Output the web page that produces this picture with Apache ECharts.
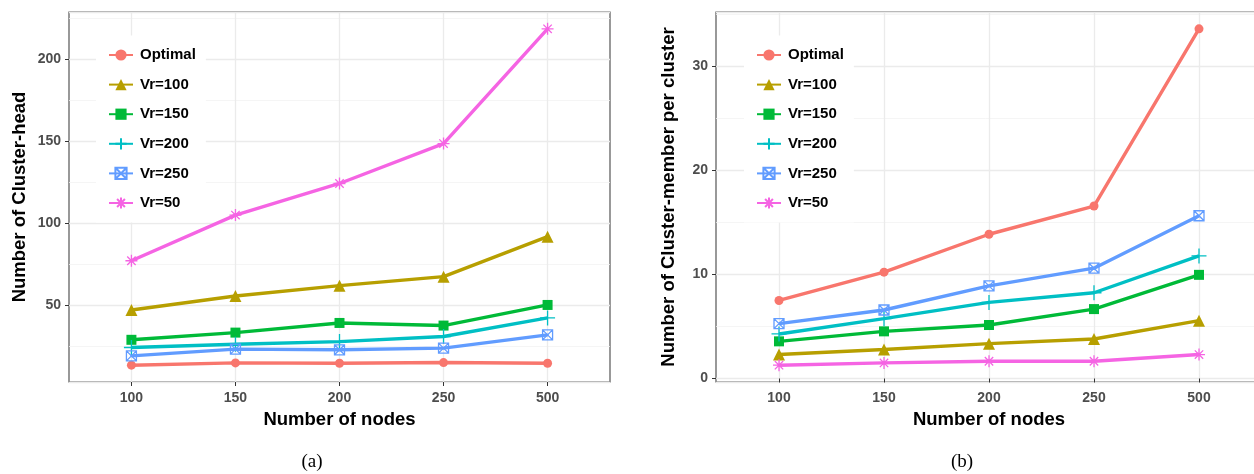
<!DOCTYPE html>
<html>
<head>
<meta charset="utf-8">
<script src="https://cdn.jsdelivr.net/npm/echarts@6/dist/echarts.min.js"></script>
<style>
  html, body { margin: 0; padding: 0; background: #fff; }
  #chart { width: 1254px; height: 474px; }
</style>
</head>
<body>
<div id="chart"></div>
<script>
// categories on the x axis
const nodeLabels = ['100', '150', '200', '250', '500']
const seriesNames = ['Optimal', 'Vr=100', 'Vr=150', 'Vr=200', 'Vr=250', 'Vr=50']

// (a) number of cluster-heads
const headOptimal = [13.2, 14.6, 14.4, 14.8, 14.4]
const headVr100 = [46.9, 55.5, 61.8, 67.3, 91.7]
const headVr150 = [28.7, 33.1, 39.0, 37.4, 50.0]
const headVr200 = [24.0, 26.0, 27.6, 30.7, 42.1]
const headVr250 = [18.9, 23.0, 22.6, 23.6, 31.7]
const headVr50 = [77.0, 104.9, 124.2, 148.6, 218.7]

// (b) cluster-members per cluster
const memberOptimal = [7.5, 10.22, 13.86, 16.57, 33.6]
const memberVr100 = [2.3, 2.78, 3.35, 3.8, 5.56]
const memberVr150 = [3.57, 4.53, 5.14, 6.67, 9.96]
const memberVr200 = [4.28, 5.75, 7.31, 8.24, 11.78]
const memberVr250 = [5.27, 6.58, 8.9, 10.6, 15.64]
const memberVr50 = [1.28, 1.5, 1.66, 1.66, 2.3]

const headSets = [headOptimal, headVr100, headVr150, headVr200, headVr250, headVr50]
const memberSets = [memberOptimal, memberVr100, memberVr150, memberVr200, memberVr250, memberVr50]

const colors = ['#F8766D', '#B79F00', '#00BA38', '#00BFC4', '#619CFF', '#F564E3']
const font = '"Liberation Sans", Arial, sans-serif'

// ggplot-like marker shapes
const shapes = [
  { symbol: 'circle', size: 9, open: false },
  { symbol: 'triangle', size: 12, open: false },
  { symbol: 'rect', size: 10, open: false },
  { symbol: 'path://M5,0L5,10M0,5L10,5', size: 15, open: true },
  { symbol: 'path://M0,0L10,0L10,10L0,10ZM0,0L10,10M10,0L0,10', size: 10, open: true },
  { symbol: 'path://M5,0L5,10M0,5L10,5M1.5,1.5L8.5,8.5M8.5,1.5L1.5,8.5', size: 12, open: true },
]

function expand(sets) {
  const all = sets.flat()
  const lo = Math.min(...all)
  const hi = Math.max(...all)
  const pad = (hi - lo) * 0.05
  return [lo - pad, hi + pad]
}

const headRange = expand(headSets)
const memberRange = expand(memberSets)

function xAxis(gridIndex) {
  return {
    type: 'value',
    gridIndex,
    min: 0.4,
    max: 5.6,
    name: 'Number of nodes',
    nameLocation: 'middle',
    nameGap: 28,
    nameTextStyle: { fontFamily: font, fontWeight: 'bold', fontSize: 18.5, color: '#000' },
    axisLine: { show: false },
    axisTick: { show: true, length: 4, lineStyle: { color: '#333' }, customValues: [1, 2, 3, 4, 5] },
    axisLabel: {
      customValues: [1, 2, 3, 4, 5],
      showMinLabel: true,
      showMaxLabel: true,
      margin: 9,
      fontFamily: font,
      fontWeight: 'bold',
      fontSize: 14,
      color: '#4d4d4d',
      formatter: (v) => (Number.isInteger(v) ? nodeLabels[v - 1] : ''),
    },
    splitLine: { show: true, lineStyle: { color: '#ebebeb', width: 1.3 } },
  }
}

function yAxis(gridIndex, range, name, gap) {
  return {
    type: 'value',
    gridIndex,
    min: range[0],
    max: range[1],
    name,
    nameLocation: 'middle',
    nameGap: gap,
    nameTextStyle: { fontFamily: font, fontWeight: 'bold', fontSize: 18.5, color: '#000' },
    axisLine: { show: false },
    axisTick: { show: true, length: 4, lineStyle: { color: '#333' } },
    axisLabel: {
      showMinLabel: false,
      showMaxLabel: false,
      margin: 8,
      fontFamily: font,
      fontWeight: 'bold',
      fontSize: 14,
      color: '#4d4d4d',
    },
    splitLine: { show: true, lineStyle: { color: '#ebebeb', width: 1.3 } },
    minorTick: { show: false, splitNumber: 2 },
    minorSplitLine: { show: true, lineStyle: { color: '#f2f2f2', width: 0.8 } },
  }
}

function makeSeries(sets, gridIndex) {
  return sets.map((values, i) => {
    const shape = shapes[i]
    return {
      name: seriesNames[i],
      type: 'line',
      xAxisIndex: gridIndex,
      yAxisIndex: gridIndex,
      data: values.map((v, k) => [k + 1, v]),
      symbol: shape.symbol,
      symbolSize: shape.size,
      showSymbol: true,
      lineStyle: { color: colors[i], width: 3.4 },
      itemStyle: shape.open
        ? { color: 'rgba(255,255,255,0)', borderColor: colors[i], borderWidth: 1.3 }
        : { color: colors[i], borderWidth: 0 },
      emphasis: { disabled: true },
      z: 2 + i,
    }
  })
}

function legend(left) {
  return {
    orient: 'vertical',
    left,
    top: 35.5,
    padding: [12, 10, 12, 12],
    backgroundColor: '#fff',
    itemWidth: 24,
    itemHeight: 14,
    itemGap: 14.6,
    data: seriesNames,
    textStyle: { fontFamily: font, fontWeight: 'bold', fontSize: 15, color: '#000', padding: [0, 0, 0, 2] },
    selectedMode: false,
  }
}

const chart = echarts.init(document.getElementById('chart'))
chart.setOption({
  animation: false,
  backgroundColor: '#fff',
  grid: [
    { left: 69, top: 12, width: 541, height: 370, show: true, borderColor: '#555', borderWidth: 1.2, backgroundColor: '#fff', outerBoundsMode: 'none' },
    { left: 716, top: 12, width: 546, height: 370, show: true, borderColor: '#555', borderWidth: 1.2, backgroundColor: '#fff', outerBoundsMode: 'none' },
  ],
  legend: [legend(96), legend(744)],
  xAxis: [xAxis(0), xAxis(1)],
  yAxis: [
    yAxis(0, headRange, 'Number of Cluster-head', 40),
    yAxis(1, memberRange, 'Number of Cluster-member per cluster', 38),
  ],
  series: [...makeSeries(headSets, 0), ...makeSeries(memberSets, 1)],
  graphic: [
    { type: 'text', x: 312, y: 462, style: { text: '(a)', align: 'center', verticalAlign: 'middle', font: '19px "Liberation Serif", serif', fill: '#000' } },
    { type: 'text', x: 962, y: 462, style: { text: '(b)', align: 'center', verticalAlign: 'middle', font: '19px "Liberation Serif", serif', fill: '#000' } },
  ],
})
</script>
</body>
</html>
